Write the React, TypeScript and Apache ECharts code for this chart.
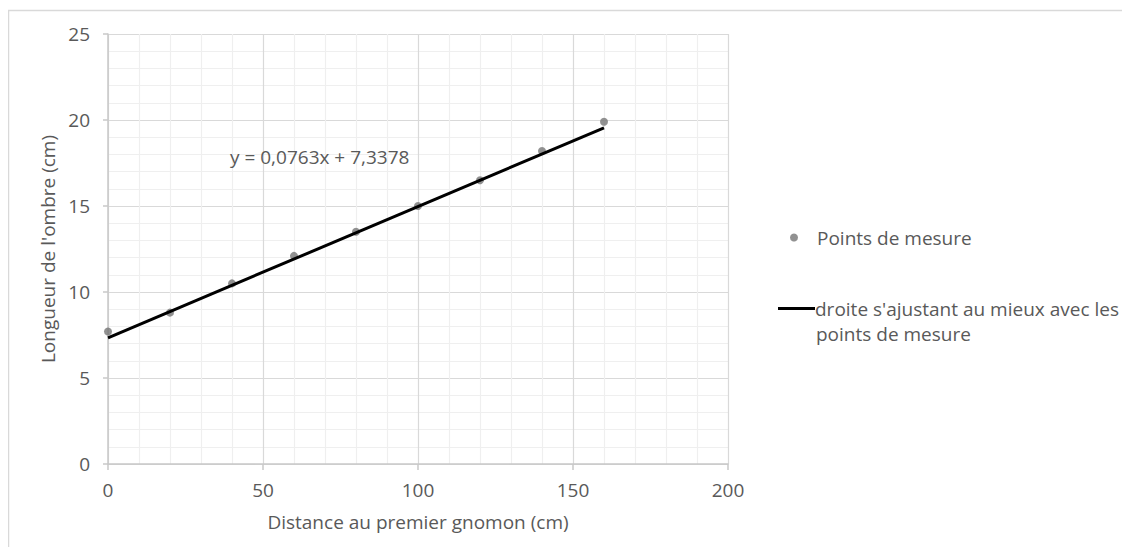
import React, { useEffect, useRef } from "react";
import * as echarts from "echarts";

const pointsX = [0, 20, 40, 60, 80, 100, 120, 140, 160];
const pointsY = [7.7, 8.8, 10.5, 12.1, 13.5, 15.0, 16.5, 18.2, 19.9];
const trendX = [0, 160];
const trendY = [7.3378, 19.5458];
const equationText = "y = 0,0763x + 7,3378";
const seriesNames = ["Points de mesure", "droite s'ajustant au mieux avec les"];
const legendSecondLine = "points de mesure";
const xAxisName = "Distance au premier gnomon (cm)";
const yAxisName = "Longueur de l'ombre (cm)";

const FONT = "'Open Sans', sans-serif";
const TXT = "#595959";

export default function App() {
  const ref = useRef<HTMLDivElement>(null);
  useEffect(() => {
    if (!ref.current) return;
    const chart = echarts.init(ref.current, undefined, { renderer: "svg" });
    const scatterData = pointsX.map((x, i) => [x, pointsY[i]]);
    const trendData = trendX.map((x, i) => [x, trendY[i]]);
    chart.setOption({
      animation: false,
      textStyle: { fontFamily: FONT, color: TXT },
      grid: { left: 100, top: 26, right: 394, bottom: 83, containLabel: false },
      xAxis: {
        type: "value",
        min: 0,
        max: 200,
        interval: 50,
        name: xAxisName,
        nameLocation: "middle",
        nameGap: 48,
        nameTextStyle: { fontSize: 19, color: TXT, fontFamily: FONT },
        axisLine: { show: true, onZero: false, lineStyle: { color: "#c8c8c8", width: 1.5 } },
        axisTick: { show: true, length: 6, lineStyle: { color: "#c8c8c8", width: 1.5 } },
        axisLabel: { fontSize: 19, color: TXT, margin: 16, fontFamily: FONT },
        splitLine: { show: true, lineStyle: { color: "#d9d9d9", width: 1.2 } },
        minorTick: { show: false, splitNumber: 5 },
        minorSplitLine: { show: true, lineStyle: { color: "#efefef", width: 1.2 } },
      },
      yAxis: {
        type: "value",
        min: 0,
        max: 25,
        interval: 5,
        name: yAxisName,
        nameLocation: "middle",
        nameGap: 50,
        nameTextStyle: { fontSize: 19, color: TXT, fontFamily: FONT },
        axisLine: { show: true, lineStyle: { color: "#c8c8c8", width: 1.5 } },
        axisTick: { show: true, length: 5, lineStyle: { color: "#c8c8c8", width: 1.5 } },
        axisLabel: { fontSize: 19, color: TXT, margin: 18, fontFamily: FONT },
        splitLine: { show: true, lineStyle: { color: "#d9d9d9", width: 1.2 } },
        minorTick: { show: false, splitNumber: 5 },
        minorSplitLine: { show: true, lineStyle: { color: "#efefef", width: 1.2 } },
      },
      legend: [
        {
          data: [{ name: seriesNames[0], icon: "circle" }],
          orient: "vertical",
          left: 777,
          top: 215,
          itemWidth: 8,
          itemHeight: 8,
          textStyle: { fontSize: 19, color: TXT, fontFamily: FONT, padding: [0, 0, 0, 14] },
        },
        {
          data: [{ name: seriesNames[1], icon: "rect" }],
          orient: "vertical",
          left: 765,
          top: 286,
          itemWidth: 37,
          itemHeight: 3,
          textStyle: { fontSize: 19, color: TXT, fontFamily: FONT, padding: [0, 0, 0, -5] },
        },
      ],
      graphic: [
        {
          type: "rect",
          silent: true,
          z: -10,
          shape: { x: 0.5, y: 2.5, width: 2000, height: 2000 },
          style: { fill: "none", stroke: "#d9d9d9", lineWidth: 1.5 },
        },
        {
          type: "text",
          z: 100,
          left: 222,
          top: 139,
          style: { text: equationText, fontSize: 19, fill: TXT, fontFamily: FONT },
        },
        {
          type: "text",
          z: 100,
          left: 808,
          top: 316,
          style: { text: legendSecondLine, fontSize: 19, fill: TXT, fontFamily: FONT },
        },
      ],
      series: [
        {
          name: seriesNames[0],
          type: "scatter",
          data: scatterData,
          symbol: "circle",
          symbolSize: 8,
          itemStyle: { color: "#767676" },
          z: 3,
        },
        {
          name: seriesNames[1],
          type: "line",
          data: trendData,
          showSymbol: false,
          symbol: "none",
          lineStyle: { color: "#000000", width: 3 },
          itemStyle: { color: "#000000" },
          z: 4,
        },
      ],
    });
    return () => chart.dispose();
  }, []);
  return <div ref={ref} style={{ width: 1114, height: 539 }} />;
}
